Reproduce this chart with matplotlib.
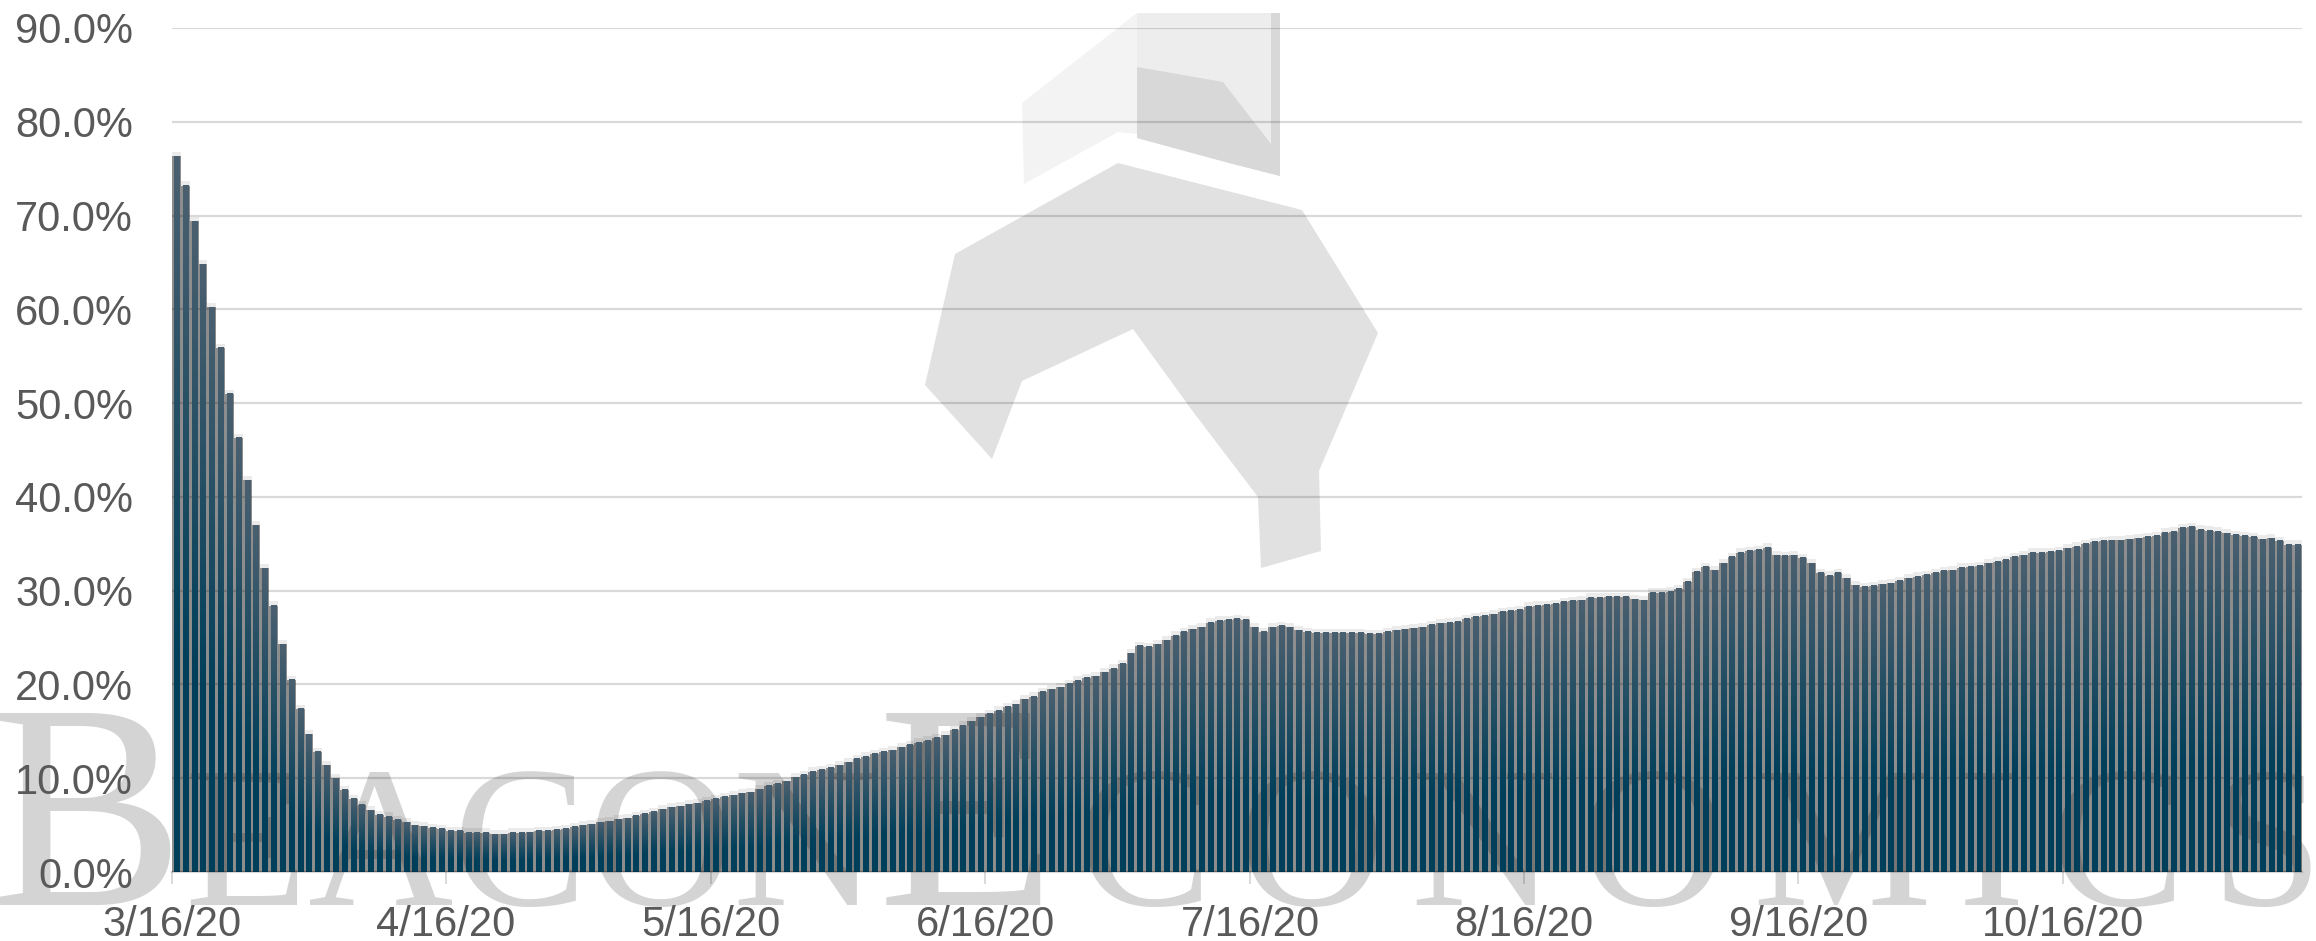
import matplotlib
matplotlib.use('Agg')
import matplotlib.pyplot as plt
import matplotlib.dates as mdates
from matplotlib.colors import to_rgb
from matplotlib.patches import Polygon
from matplotlib.ticker import FuncFormatter
import numpy as np
import pandas as pd

plt.rcParams['font.family'] = ['Liberation Sans', 'DejaVu Sans']

# daily share (%), starting 3/16/20
start = '2020-03-16'
share = [
    76.3, 73.2, 69.4, 64.8, 60.2, 55.9, 51.0, 46.3, 41.8, 37.0,
    32.4, 28.4, 24.3, 20.5, 17.4, 14.7, 12.8, 11.4, 10.0, 8.75,
    7.8, 7.15, 6.6, 6.1, 5.9, 5.55, 5.3, 5.0, 4.9, 4.7,
    4.6, 4.4, 4.4, 4.2, 4.2, 4.2, 4.05, 4.05, 4.2, 4.2,
    4.25, 4.4, 4.4, 4.5, 4.6, 4.8, 5.0, 5.1, 5.3, 5.4,
    5.65, 5.75, 6.0, 6.2, 6.4, 6.7, 6.9, 7.0, 7.25, 7.35,
    7.6, 7.8, 8.0, 8.2, 8.4, 8.5, 8.85, 9.2, 9.4, 9.7,
    10.1, 10.35, 10.7, 10.9, 11.1, 11.4, 11.7, 12.05, 12.3, 12.6,
    12.8, 13.0, 13.3, 13.55, 13.8, 14.0, 14.3, 14.6, 15.15, 15.6,
    16.1, 16.5, 16.85, 17.2, 17.6, 17.9, 18.4, 18.7, 19.2, 19.5,
    19.7, 20.05, 20.4, 20.7, 20.9, 21.3, 21.7, 22.2, 23.3, 24.1,
    24.0, 24.3, 24.7, 25.2, 25.6, 25.9, 26.1, 26.6, 26.8, 26.9,
    27.0, 26.9, 26.1, 25.6, 26.1, 26.25, 26.1, 25.8, 25.6, 25.5,
    25.5, 25.5, 25.5, 25.5, 25.5, 25.4, 25.4, 25.6, 25.8, 25.9,
    26.0, 26.1, 26.35, 26.5, 26.6, 26.7, 27.0, 27.2, 27.3, 27.5,
    27.75, 27.85, 27.95, 28.3, 28.4, 28.5, 28.6, 28.8, 28.9, 29.0,
    29.25, 29.25, 29.35, 29.35, 29.35, 29.1, 29.0, 29.8, 29.8, 29.9,
    30.2, 30.95, 32.0, 32.55, 32.2, 32.9, 33.6, 34.05, 34.25, 34.35,
    34.6, 33.8, 33.7, 33.8, 33.5, 32.9, 31.9, 31.6, 31.9, 31.3,
    30.6, 30.4, 30.5, 30.7, 30.8, 31.05, 31.3, 31.5, 31.7, 31.9,
    32.1, 32.2, 32.45, 32.55, 32.65, 32.9, 33.1, 33.3, 33.6, 33.8,
    34.05, 34.05, 34.15, 34.25, 34.5, 34.7, 35.0, 35.2, 35.3, 35.4,
    35.4, 35.5, 35.6, 35.75, 35.85, 36.2, 36.3, 36.7, 36.8, 36.5,
    36.4, 36.3, 36.1, 35.95, 35.85, 35.75, 35.5, 35.6, 35.3, 34.9,
    34.9,
]
yticks = [0, 10, 20, 30, 40, 50, 60, 70, 80, 90]

W, H = 2316, 941
fig = plt.figure(figsize=(W / 100, H / 100), dpi=100)
ax = fig.add_axes([172 / W, 1 - 872 / H, (2302 - 172) / W, (872 - 28) / H])
ax.patch.set_visible(False)

# --- background watermark: logo + company name
def px(pts):
    return [(x / W, 1 - y / H) for x, y in pts]

logo = [
    ([(1022, 103), (1137, 13), (1137, 134), (1118, 132), (1024, 184)], '#f3f3f3'),
    ([(1137, 13), (1280, 13), (1280, 176), (1229, 163), (1137, 138)], '#ededed'),
    ([(1137, 67), (1223, 82), (1271, 144), (1271, 13), (1280, 13), (1280, 176),
      (1229, 163), (1137, 138)], '#d8d8d8'),
    ([(1118, 163), (1302, 210), (1378, 333), (1319, 471), (1321, 551), (1261, 568),
      (1258, 497), (1194, 413), (1133, 329), (1022, 381), (992, 459), (925, 385),
      (955, 254)], '#e1e1e1'),
]
for verts, col in logo:
    fig.add_artist(Polygon(px(verts), closed=True, transform=fig.transFigure,
                           facecolor=col, edgecolor='none', zorder=-2))

fig.canvas.draw()
renderer = fig.canvas.get_renderer()
# (letter, font size, extra spacing after it in px)
wm_letters = [('B', 210, 0), ('E', 145, 0), ('A', 145, 0), ('C', 145, 0), ('O', 145, 0),
              ('N', 145, 0), ('E', 210, 22), ('C', 145, 26), ('O', 145, 26),
              ('N', 145, 26), ('O', 145, 26), ('M', 145, 26), ('I', 145, 26),
              ('C', 145, 26), ('S', 145, 0)]
xpos = -10
for ch, size, gap in wm_letters:
    txt = fig.text(xpos / W, 1 - 905 / H, ch, fontsize=size, family='Liberation Serif',
                   color='#d4d4d4', va='baseline', ha='left', zorder=-1)
    xpos += txt.get_window_extent(renderer).width + gap

# --- bars
dates = pd.date_range(start, periods=len(share), freq='D')
x0 = mdates.date2num(dates[0])
x = mdates.date2num(dates) + 0.5
edges = np.append(x - 0.5, x[-1] + 0.5)
vals = np.array(share)

# soft drop shadow behind the columns (one stepped shape, no seams)
ax.stairs(vals + 0.45, edges, fill=True, color='k', alpha=0.08, lw=0, zorder=1)
ax.stairs(vals, edges, fill=True, color='k', alpha=0.40, lw=0, zorder=1)

bottom_c = np.array(to_rgb('#003f5a'))
top_c = np.array(to_rgb('#4a6070'))
t = np.linspace(0, 1, 96)
frac = np.clip((t - 0.3) / 0.7, 0, 1)[:, None]
grad = (bottom_c + (top_c - bottom_c) * frac)[:, None, :]

bars = ax.bar(x, vals, width=0.58, color='#003f5a', lw=0, zorder=2)
for b in bars:
    ax.imshow(grad, extent=(b.get_x(), b.get_x() + b.get_width(), 0, b.get_height()),
              origin='lower', aspect='auto', interpolation='bilinear', zorder=2.2)

# --- axes styling
ax.set_xlim(x0, x0 + len(share))
ax.set_ylim(0, 90)
ax.set_yticks(yticks)
ax.yaxis.set_major_formatter(FuncFormatter(lambda v, p: f'{v:.1f}%'))

ax.xaxis.set_major_locator(mdates.MonthLocator(bymonthday=16))
def date_label(v, p):
    d = mdates.num2date(v)
    return f'{d.month}/{d.day}/{d:%y}'
ax.xaxis.set_major_formatter(FuncFormatter(date_label))

ax.set_axisbelow(True)
ax.yaxis.grid(True, color='k', alpha=0.15, lw=1.6)
for s in ['top', 'right', 'left']:
    ax.spines[s].set_visible(False)
ax.spines['bottom'].set_color((0, 0, 0, 0.15))
ax.spines['bottom'].set_linewidth(1.6)

ax.tick_params(axis='x', length=8.6, width=1.4, color=(0, 0, 0, 0.15), pad=15,
               labelsize=30, labelcolor='#595959')
ax.tick_params(axis='y', length=0, pad=28, labelsize=30, labelcolor='#595959')

fig.savefig('out.png', dpi=100, facecolor='white')
